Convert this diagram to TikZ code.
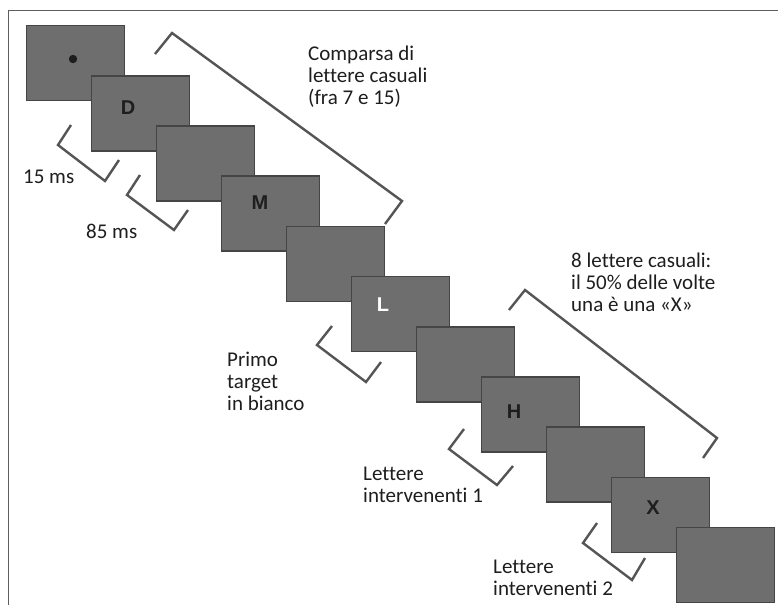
\documentclass[tikz,border=0pt]{standalone}
\usepackage{fontspec}
\setmainfont{Carlito}[Ligatures=NoCommon]
\newfontfamily\letterfont{Liberation Sans}
\definecolor{panelfill}{HTML}{6E6E6E}
\definecolor{paneledge}{HTML}{454545}
\definecolor{bracketgray}{HTML}{555555}
\definecolor{framegray}{HTML}{5E5E5E}
\definecolor{inkcol}{HTML}{1E1E1E}
\tikzset{
  panel/.style={draw=paneledge, fill=panelfill, line width=1.6pt,
    minimum width=98pt, minimum height=75pt, inner sep=0pt, outer sep=0pt},
  glyph/.style={font=\letterfont\bfseries\fontsize{20}{20}\selectfont, text=inkcol, inner sep=0pt},
  bracket/.style={draw=bracketgray, line width=2.4pt, line join=miter, line cap=butt},
  caption/.style={font=\fontsize{21}{22}\selectfont, text=inkcol, anchor=base west, inner sep=0pt},
  frameline/.style={draw=framegray, line width=1.6pt}
}
\begin{document}
\begin{tikzpicture}[x=1pt,y=-1pt]
\useasboundingbox (0,0) rectangle (778,605);
\fill[white] (0,0) rectangle (778,605);

% outer frame (top and left edges)
\draw[frameline] (8.5,605) -- (8.5,10.5) -- (778,10.5);

% staircase of display panels
\foreach \i in {0,...,10} {
  \node[panel] (p\i) at ({75.5+65*\i},{63+50.2*\i}) {};
}

% symbols shown in the panels
\fill[inkcol] (73,59) circle (4.2);
\node[glyph] (gD) at (128,108) {D};
\node[glyph] (gM) at (260,203) {M};
\node[glyph, text=white] (gL) at (383,305) {L};
\node[glyph] (gH) at (514,412) {H};
\node[glyph] (gX) at (653,508) {X};

% large brackets
\draw[bracket] (155,54) -- (172,33) -- (402,201) -- (385,224);
\draw[bracket] (509,310) -- (525,290) -- (717,438) -- (703,458);

% small brackets under the panels
\draw[bracket] (71,125) -- (58,145) -- (105,181) -- (119,160);
\draw[bracket] (140,175) -- (127,195) -- (174,230) -- (188,210);
\draw[bracket] (332,326) -- (317,345) -- (366,382) -- (381,362);
\draw[bracket] (464,429) -- (449,449) -- (497,485) -- (513,466);
\draw[bracket] (597,523) -- (583,543) -- (632,580) -- (645,558);

% captions
\node[caption] (c1a) at (308,60) {Comparsa di};
\node[caption] (c1b) at (308,82) {lettere casuali};
\node[caption] (c1c) at (308,104) {(fra 7 e 15)};

\node[caption] (c2) at (23,183) {15 ms};
\node[caption] (c3) at (86,238) {85 ms};

\node[caption] (c4a) at (227,366) {Primo};
\node[caption] (c4b) at (227,388) {target};
\node[caption] (c4c) at (227,410) {in bianco};

\node[caption] (c5a) at (571,267) {8 lettere casuali:};
\node[caption] (c5b) at (571,289) {il 50\% delle volte};
\node[caption] (c5c) at (571,311) {una è una «X»};

\node[caption] (c6a) at (363,480) {Lettere};
\node[caption] (c6b) at (363,502) {intervenenti 1};

\node[caption] (c7a) at (493,573) {Lettere};
\node[caption] (c7b) at (493,595) {intervenenti 2};
\end{tikzpicture}
\end{document}
